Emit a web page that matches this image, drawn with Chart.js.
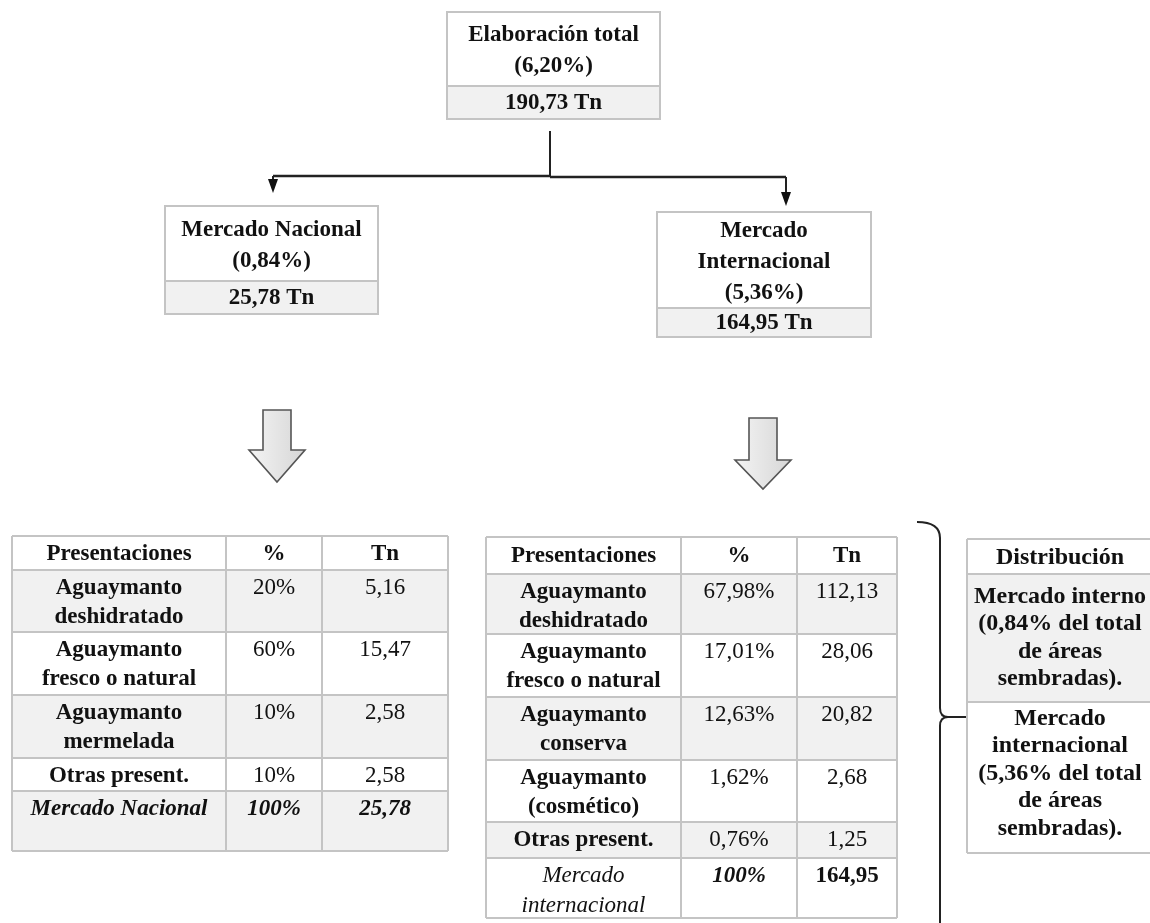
<!DOCTYPE html>
<html>
<head>
<meta charset="utf-8">
<script src="https://cdn.jsdelivr.net/npm/chart.js@4.4.1/dist/chart.umd.min.js"></script>
<style>
  html, body { margin: 0; padding: 0; background: #fff; }
  canvas { display: block; }
</style>
</head>
<body>
<canvas id="diagram" width="1150" height="923"></canvas>
<script>
// values
const nodeNames = [['Elaboración total'], ['Mercado Nacional'], ['Mercado', 'Internacional']];
const nodeShares = [6.20, 0.84, 5.36];
const nodeTonnes = [190.73, 25.78, 164.95];

const tableHeaders = ['Presentaciones', '%', 'Tn'];

const nacProducts = [['Aguaymanto', 'deshidratado'], ['Aguaymanto', 'fresco o natural'], ['Aguaymanto', 'mermelada'], ['Otras present.']];
const nacPct = [20, 60, 10, 10];
const nacTn = [5.16, 15.47, 2.58, 2.58];
const nacTotal = [['Mercado Nacional'], 100, 25.78];

const intProducts = [['Aguaymanto', 'deshidratado'], ['Aguaymanto', 'fresco o natural'], ['Aguaymanto', 'conserva'], ['Aguaymanto', '(cosmético)'], ['Otras present.']];
const intPct = [67.98, 17.01, 12.63, 1.62, 0.76];
const intTn = [112.13, 28.06, 20.82, 2.68, 1.25];
const intTotal = [['Mercado', 'internacional'], 100, 164.95];

const distHeader = 'Distribución';
const distRows = [
    ['Mercado interno', '(0,84% del total', 'de áreas', 'sembradas).'],
    ['Mercado', 'internacional', '(5,36% del total', 'de áreas', 'sembradas).']
];

// layout in figure units (the hidden axes run 0..1150 and 0..923)
const layout = {
    nodes: [
        { x0: 447, x1: 660, y0: 12, sep: 86, y1: 119 },
        { x0: 165, x1: 378, y0: 206, sep: 281, y1: 314 },
        { x0: 657, x1: 871, y0: 212, sep: 308, y1: 337 }
    ],
    trunk: { x: 550, y0: 131, y1: 177 },
    branches: [{ x: 273, y: 176, tip: 193 }, { x: 786, y: 177, tip: 206 }],
    blockArrows: [
        { x: 277, top: 410, neck: 450, tip: 482 },
        { x: 763, top: 418, neck: 460, tip: 489 }
    ],
    nacTable: { cols: [12, 226, 322, 448], rows: [536, 570, 632, 695, 758, 791, 851] },
    intTable: { cols: [486, 681, 797, 897], rows: [537, 574, 634, 697, 760, 822, 858, 918] },
    distTable: { cols: [967, 1153], rows: [539, 574, 702, 853] },
    brace: { x: 940, top: 522, mid: 717, bottom: 930, tick: 970 }
};

const FONT = "'Liberation Serif', 'Times New Roman', serif";
const GREY = '#f1f1f1';
const BORDER = '#c4c4c4';
const INK = '#111111';

const fmt = v => v.toFixed(2).replace('.', ',');
const fmtPct = v => (Number.isInteger(v) ? String(v) : fmt(v)) + '%';

const diagramPlugin = {
    id: 'diagram',
    afterDraw(chart) {
        const ctx = chart.ctx;
        const sx = chart.scales.x, sy = chart.scales.y;
        const X = v => sx.getPixelForValue(v);
        const Y = v => sy.getPixelForValue(v);

        const rect = (x0, y0, x1, y1, fill) => {
            ctx.fillStyle = fill;
            ctx.fillRect(X(x0), Y(y0), X(x1) - X(x0), Y(y1) - Y(y0));
        };
        const line = (x0, y0, x1, y1, color, w) => {
            ctx.strokeStyle = color;
            ctx.lineWidth = w;
            ctx.beginPath();
            ctx.moveTo(X(x0), Y(y0));
            ctx.lineTo(X(x1), Y(y1));
            ctx.stroke();
        };
        const lines = (arr, cx, cy, lh, font) => {
            ctx.font = font;
            ctx.fillStyle = INK;
            ctx.textAlign = 'center';
            ctx.textBaseline = 'middle';
            arr.forEach((t, i) => ctx.fillText(t, X(cx), Y(cy + i * lh)));
        };
        const frame = (cols, rows) => {
            cols.forEach(c => line(c, rows[0], c, rows[rows.length - 1], BORDER, 2));
            rows.forEach(r => line(cols[0], r, cols[cols.length - 1], r, BORDER, 2));
        };

        // node boxes
        layout.nodes.forEach((b, i) => {
            rect(b.x0, b.y0, b.x1, b.sep, '#ffffff');
            rect(b.x0, b.sep, b.x1, b.y1, GREY);
            ctx.strokeStyle = BORDER;
            ctx.lineWidth = 2;
            ctx.strokeRect(X(b.x0), Y(b.y0), X(b.x1) - X(b.x0), Y(b.y1) - Y(b.y0));
            line(b.x0, b.sep, b.x1, b.sep, BORDER, 2);
            const txt = nodeNames[i].concat(['(' + fmt(nodeShares[i]) + '%)']);
            const lh = 31;
            const cy = (b.y0 + b.sep) / 2 - (txt.length - 1) * lh / 2 + 2;
            lines(txt, (b.x0 + b.x1) / 2, cy, lh, 'bold 23px ' + FONT);
            lines([fmt(nodeTonnes[i]) + ' Tn'], (b.x0 + b.x1) / 2, (b.sep + b.y1) / 2 + 1, 0, 'bold 23px ' + FONT);
        });

        // connectors
        const t = layout.trunk;
        line(t.x, t.y0, t.x, t.y1, '#222', 2);
        const br = layout.branches;
        line(br[0].x, br[0].y, t.x, br[0].y, '#222', 2.5);
        line(t.x, br[1].y, br[1].x, br[1].y, '#222', 2.5);
        br.forEach(b => {
            line(b.x, b.y, b.x, b.tip - 10, '#222', 2);
            ctx.fillStyle = '#111';
            ctx.beginPath();
            ctx.moveTo(X(b.x - 5), Y(b.tip - 14));
            ctx.lineTo(X(b.x + 5), Y(b.tip - 14));
            ctx.lineTo(X(b.x), Y(b.tip));
            ctx.closePath();
            ctx.fill();
        });

        // hollow block arrows
        layout.blockArrows.forEach(a => {
            const g = ctx.createLinearGradient(X(a.x - 28), 0, X(a.x + 28), 0);
            g.addColorStop(0, '#f4f4f4');
            g.addColorStop(1, '#d6d6d6');
            ctx.fillStyle = g;
            ctx.strokeStyle = '#555';
            ctx.lineWidth = 1.6;
            ctx.beginPath();
            ctx.moveTo(X(a.x - 14), Y(a.top));
            ctx.lineTo(X(a.x + 14), Y(a.top));
            ctx.lineTo(X(a.x + 14), Y(a.neck));
            ctx.lineTo(X(a.x + 28), Y(a.neck));
            ctx.lineTo(X(a.x), Y(a.tip));
            ctx.lineTo(X(a.x - 28), Y(a.neck));
            ctx.lineTo(X(a.x - 14), Y(a.neck));
            ctx.closePath();
            ctx.fill();
            ctx.stroke();
        });

        // product tables
        const drawTable = (geo, products, pct, tn, total, totalFonts) => {
            const { cols, rows } = geo;
            const n = rows.length - 1;
            for (let r = 0; r < n; r++) {
                rect(cols[0], rows[r], cols[3], rows[r + 1], r % 2 === 1 ? GREY : '#ffffff');
            }
            frame(cols, rows);
            const cx = [0, 1, 2].map(c => (cols[c] + cols[c + 1]) / 2);
            tableHeaders.forEach((h, c) => lines([h], cx[c], (rows[0] + rows[1]) / 2 + 1, 0, 'bold 23px ' + FONT));
            const lh = 29.5;
            products.forEach((p, i) => {
                const top = rows[i + 1] + 18;
                lines(p, cx[0], top, lh, 'bold 23px ' + FONT);
                lines([fmtPct(pct[i])], cx[1], top, 0, '23px ' + FONT);
                lines([fmt(tn[i])], cx[2], top, 0, '23px ' + FONT);
            });
            const top = rows[n - 1] + 18;
            lines(total[0], cx[0], top, lh, totalFonts[0] + ' 23px ' + FONT);
            lines([fmtPct(total[1])], cx[1], top, 0, totalFonts[1] + ' 23px ' + FONT);
            lines([fmt(total[2])], cx[2], top, 0, totalFonts[2] + ' 23px ' + FONT);
        };
        drawTable(layout.nacTable, nacProducts, nacPct, nacTn, nacTotal, ['italic bold', 'italic bold', 'italic bold']);
        drawTable(layout.intTable, intProducts, intPct, intTn, intTotal, ['italic', 'italic bold', 'bold']);

        // brace
        const b = layout.brace;
        ctx.strokeStyle = '#222';
        ctx.lineWidth = 2;
        ctx.beginPath();
        ctx.moveTo(X(b.x - 23), Y(b.top));
        ctx.quadraticCurveTo(X(b.x), Y(b.top), X(b.x), Y(b.top + 16));
        ctx.lineTo(X(b.x), Y(b.mid - 9));
        ctx.quadraticCurveTo(X(b.x), Y(b.mid), X(b.x + 8), Y(b.mid));
        ctx.lineTo(X(b.tick), Y(b.mid));
        ctx.moveTo(X(b.x + 8), Y(b.mid));
        ctx.quadraticCurveTo(X(b.x), Y(b.mid), X(b.x), Y(b.mid + 9));
        ctx.lineTo(X(b.x), Y(b.bottom));
        ctx.stroke();

        // distribution table
        const d = layout.distTable;
        rect(d.cols[0], d.rows[0], d.cols[1], d.rows[1], '#ffffff');
        rect(d.cols[0], d.rows[1], d.cols[1], d.rows[2], GREY);
        rect(d.cols[0], d.rows[2], d.cols[1], d.rows[3], '#ffffff');
        frame(d.cols, d.rows);
        const dcx = (d.cols[0] + d.cols[1]) / 2;
        lines([distHeader], dcx, (d.rows[0] + d.rows[1]) / 2 + 1, 0, 'bold 24px ' + FONT);
        distRows.forEach((row, i) => {
            const lh = 27.5;
            const cy = (d.rows[i + 1] + d.rows[i + 2]) / 2 - (row.length - 1) * lh / 2 - (i === 1 ? 4 : 0);
            lines(row, dcx, cy, lh, 'bold 24px ' + FONT);
        });
    }
};

new Chart(document.getElementById('diagram').getContext('2d'), {
    type: 'scatter',
    data: { datasets: [] },
    options: {
        responsive: false,
        animation: false,
        events: [],
        layout: { padding: 0 },
        plugins: {
            legend: { display: false },
            tooltip: { enabled: false }
        },
        scales: {
            x: { type: 'linear', display: false, min: 0, max: 1150 },
            y: { type: 'linear', display: false, min: 0, max: 923, reverse: true }
        }
    },
    plugins: [diagramPlugin]
});
</script>
</body>
</html>
